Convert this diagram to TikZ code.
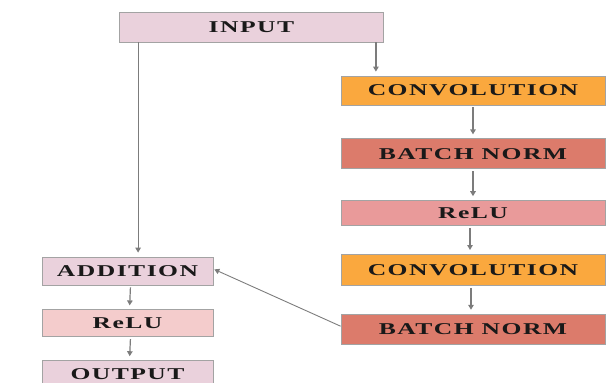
\documentclass[tikz,border=0pt]{standalone}
\usepackage{fontspec}
\newfontfamily\boxfont[FakeStretch=1.55, LetterSpace=9]{Liberation Serif}
\usetikzlibrary{positioning, arrows.meta}

\definecolor{inputpink}{HTML}{EAD1DC}
\definecolor{convorange}{HTML}{FAA83E}
\definecolor{normred}{HTML}{DC7B6B}
\definecolor{relurose}{HTML}{E99A9A}
\definecolor{relulight}{HTML}{F4CCCC}
\definecolor{linegray}{HTML}{7C7C7C}
\definecolor{edgegray}{HTML}{A3A3A3}

\begin{document}
\begin{tikzpicture}[
    x=1pt, y=-1pt,
    font=\boxfont\bfseries\fontsize{16.5}{18}\selectfont,
    block/.style={
        rectangle, draw=edgegray, line width=0.8pt,
        inner sep=0pt, text=black!90,
        minimum width=264pt, minimum height=30pt,
        align=center
    },
    blockS/.style={
        block, minimum width=171pt, minimum height=28pt
    },
    arrow/.style={-{Triangle[length=5pt, width=5.5pt]}, draw=linegray,
        line width=1.2pt, shorten <=2pt, shorten >=4pt}
]
\useasboundingbox (0,0) rectangle (611,383);

%% --- main column ---------------------------------------------------------

\node[block, fill=inputpink]  (input) at (251.5,27) {INPUT};

\node[block, fill=convorange, minimum height=29pt] (conv1) at (473,90.5) {CONVOLUTION};
\node[block, fill=normred, below=33pt of conv1]    (norm1) {BATCH NORM};
\node[block, fill=relurose, minimum height=25pt, below=31pt of norm1] (relu1) {ReLU};
\node[block, fill=convorange, minimum height=31pt, below=28pt of relu1] (conv2) {CONVOLUTION};
\node[block, fill=normred, below=28pt of conv2]    (norm2) {BATCH NORM};

%% --- shortcut column -----------------------------------------------------

\node[blockS, fill=inputpink] (add)   at (127.5,271) {ADDITION};
\node[blockS, fill=relulight, minimum height=27pt, below=24pt of add] (relu2) {ReLU};
\node[blockS, fill=inputpink, below=23pt of relu2] (output) {OUTPUT};

%% --- arrows --------------------------------------------------------------

\draw[arrow, shorten <=0pt] ([xshift=-8pt]input.south east) -- ([xshift=-8pt]input.south east |- conv1.north);
\draw[arrow] (conv1) -- (norm1);
\draw[arrow] (norm1) -- (relu1);
\draw[arrow] ([xshift=-3pt]relu1.south) -- ([xshift=-3pt]conv2.north);
\draw[arrow] ([xshift=-2pt]conv2.south) -- ([xshift=-2pt]norm2.north);

% skip connection
\draw[arrow, shorten <=0pt] ([xshift=19pt]input.south west) -- ([xshift=19pt]input.south west |- add.north);

% residual back into the addition
\draw[arrow, shorten <=0pt, shorten >=1pt, line width=0.9pt] ([yshift=3pt]norm2.west) -- ([yshift=2pt]add.east);

\draw[arrow] ([xshift=3pt]add.south) -- ([xshift=2pt]relu2.north);
\draw[arrow] ([xshift=3pt]relu2.south) -- ([xshift=2pt]output.north);

\end{tikzpicture}
\end{document}
